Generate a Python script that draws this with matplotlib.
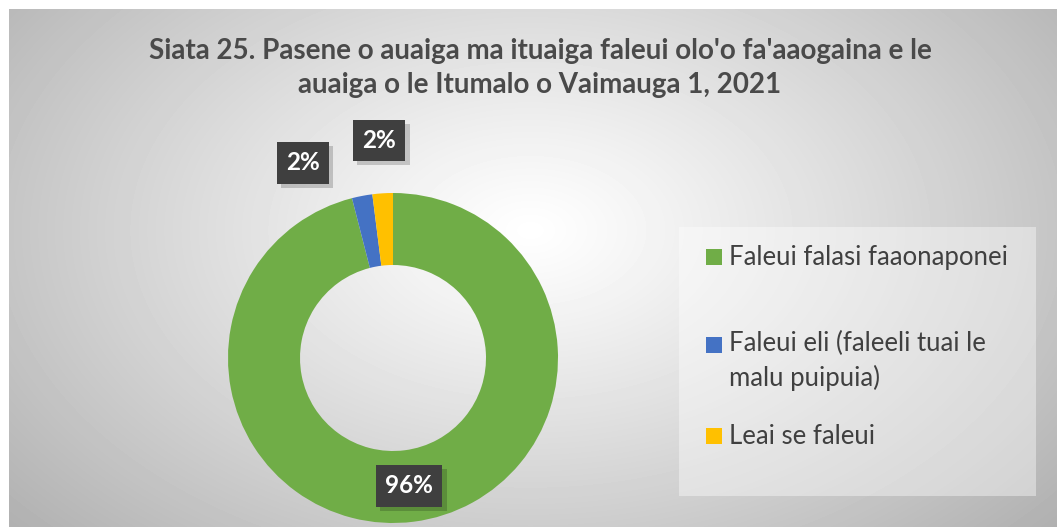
import numpy as np
import matplotlib.pyplot as plt
import matplotlib.patheffects as pe
from matplotlib.patches import Rectangle

plt.rcParams['font.family'] = ['Lato', 'DejaVu Sans']

# data
categories = ["Faleui falasi faaonaponei",
              "Faleui eli (faleeli tuai le\nmalu puipuia)",
              "Leai se faleui"]
shares = [96, 2, 2]
colors = ["#70AD47", "#4472C4", "#FFC000"]
title = ("Siata 25. Pasene o auaiga ma ituaiga faleui olo'o fa'aaogaina e le\n"
         "auaiga o le Itumalo o Vaimauga 1, 2021")

W, H = 1057, 527
fig = plt.figure(figsize=(W / 100, H / 100), dpi=100)
fig.patch.set_facecolor('white')
ax = fig.add_axes([0, 0, 1, 1])

# radial grey background of the chart area
ys, xs = np.mgrid[9:H, 9:W]
d = np.sqrt(((xs - 530) / 560.0) ** 2 + ((ys - 230) / 360.0) ** 2)
grad = 255 - 62 * np.clip(d, 0, 1.3) ** 1.1
ax.imshow(grad, cmap='gray', vmin=0, vmax=255, extent=(9, W, 0, H - 9),
          origin='upper', zorder=0, aspect='auto', interpolation='bilinear')

# donut
cx, cy, R = 393, H - 358, 165
wedges, _ = ax.pie(shares, colors=colors, startangle=90, counterclock=False,
                   center=(cx, cy), radius=R,
                   wedgeprops=dict(width=72, linewidth=0))
for w in wedges:
    w.set_zorder(2)

# data labels (dark boxes with a soft shadow)
lab_r = [129, 215, 218]
lab_shift = [0, 14, 0]
for w, v, r, s in zip(wedges, shares, lab_r, lab_shift):
    th = np.deg2rad((w.theta1 + w.theta2) / 2 + s)
    x, y = cx + r * np.cos(th), cy + r * np.sin(th)
    t = ax.text(x, y, f"{v}%", ha='center', va='center', color='white',
                fontsize=17.5, fontweight='bold', zorder=4,
                bbox=dict(boxstyle='square,pad=0.38', fc='#3f3f3f', ec='none'))
    t.get_bbox_patch().set_path_effects(
        [pe.SimplePatchShadow(offset=(3, -3), shadow_rgbFace='black', alpha=0.18),
         pe.Normal()])

# title
ax.text(540, H - 68, title, ha='center', va='center', fontsize=20,
        fontweight='bold', color='#4a4a4a', linespacing=1.38, zorder=5)

# legend
ax.add_patch(Rectangle((679, H - 496), 357, 269, fc='white', ec='none',
                       alpha=0.4, zorder=1))
sq_y = [257, 345, 436]
txt_y = [257, 361, 436]
for lab, c, sy, ty in zip(categories, colors, sq_y, txt_y):
    ax.add_patch(Rectangle((706, H - sy - 8), 16, 16, fc=c, ec='none', zorder=5))
    ax.text(729, H - ty, lab, ha='left', va='center', fontsize=18.5,
            color='#404040', linespacing=1.42, zorder=5)

ax.set_aspect('auto')
ax.set_xlim(0, W)
ax.set_ylim(0, H)
ax.axis('off')

fig.savefig('out.png', dpi=100, facecolor='white')
